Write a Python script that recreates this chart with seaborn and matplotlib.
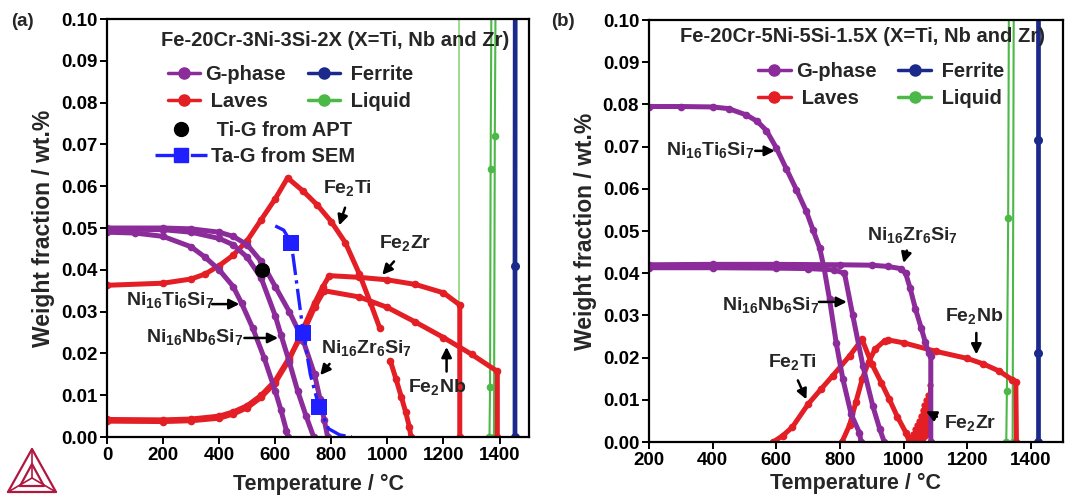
import matplotlib
matplotlib.use("Agg")
import matplotlib.pyplot as plt
from matplotlib.lines import Line2D
import seaborn as sns

# ---------------- (a) Fe-20Cr-3Ni-3Si-2X ----------------
a_ti_g_T = [0, 100, 200, 300, 350, 400, 450, 480, 520, 560, 600, 620, 640, 645]
a_ti_g_w = [0.0490, 0.0488, 0.0480, 0.0455, 0.0430, 0.0400, 0.0360, 0.0320, 0.0260, 0.0190, 0.0110, 0.0065, 0.0015, 0.0]
a_nb_g_T = [0, 200, 300, 400, 450, 500, 550, 600, 620, 650, 680, 710, 737]
a_nb_g_w = [0.0498, 0.0496, 0.0490, 0.0475, 0.0460, 0.0430, 0.0380, 0.0290, 0.0245, 0.0180, 0.0110, 0.0050, 0.0]
a_zr_g_T = [0, 200, 300, 400, 450, 500, 550, 600, 650, 700, 740, 760, 775, 787]
a_zr_g_w = [0.0500, 0.0500, 0.0498, 0.0490, 0.0480, 0.0460, 0.0420, 0.0360, 0.0300, 0.0230, 0.0150, 0.0090, 0.0040, 0.0]

a_fe2ti_T1 = [0, 200, 300, 350, 400, 450, 500, 550, 600, 644, 700, 750, 800, 850, 900, 940, 973]
a_fe2ti_w1 = [0.0363, 0.0368, 0.0378, 0.0390, 0.0410, 0.0435, 0.0470, 0.0520, 0.0570, 0.0620,
              0.0588, 0.0555, 0.0515, 0.0465, 0.0390, 0.0320, 0.0260]
a_fe2ti_T2 = [1010, 1030, 1050, 1065, 1078, 1084]
a_fe2ti_w2 = [0.0183, 0.0140, 0.0095, 0.0060, 0.0025, 0.0]
a_fe2zr_T = [0, 200, 300, 400, 450, 500, 550, 600, 650, 700, 740, 770, 793, 900, 1000, 1100, 1200, 1258, 1258]
a_fe2zr_w = [0.0038, 0.0037, 0.0039, 0.0045, 0.0055, 0.0070, 0.0095, 0.0130, 0.0185, 0.0260, 0.0320,
             0.0360, 0.0386, 0.0382, 0.0376, 0.0365, 0.0345, 0.0316, 0.0]
a_fe2nb_T = [0, 200, 300, 400, 450, 500, 550, 600, 650, 700, 740, 774, 900, 1000, 1100, 1200, 1300, 1392, 1392]
a_fe2nb_w = [0.0042, 0.0041, 0.0043, 0.0050, 0.0060, 0.0075, 0.0100, 0.0135, 0.0190, 0.0250, 0.0310,
             0.0350, 0.0335, 0.0310, 0.0275, 0.0238, 0.0198, 0.0157, 0.0]

a_liq_zr_T = [1255, 1255]
a_liq_zr_w = [0.0, 0.12]
a_liq_nb_T = [1364, 1366, 1368, 1372]
a_liq_nb_w = [0.0, 0.012, 0.064, 0.12]
a_liq_ti_T = [1380, 1383, 1387]
a_liq_ti_w = [0.0, 0.072, 0.12]
a_fer_T = [1455, 1455, 1456]
a_fer_w = [0.0, 0.041, 0.12]

apt_T = [551]
apt_w = [0.040]
sem_line_T = [600, 630, 657, 680, 700, 725, 756, 790, 830, 873]
sem_line_w = [0.0505, 0.0495, 0.0465, 0.0350, 0.0250, 0.0150, 0.0072, 0.0020, 0.0005, 0.0]
sem_pts_T = [657, 700, 756]
sem_pts_w = [0.0465, 0.0250, 0.0072]

# ---------------- (b) Fe-20Cr-5Ni-5Si-1.5X ----------------
b_ti_g_T = [200, 300, 400, 450, 506, 540, 569, 600, 631, 663, 694, 715, 736, 750, 767, 788, 809, 835, 861, 866]
b_ti_g_w = [0.0795, 0.0795, 0.0794, 0.0790, 0.0775, 0.0760, 0.0738, 0.0697, 0.0648, 0.0598, 0.0547, 0.0503,
            0.0460, 0.0412, 0.0338, 0.0235, 0.0149, 0.0066, 0.0022, 0.0]
b_nb_g_T = [200, 400, 600, 700, 780, 814, 840, 872, 903, 925, 939]
b_nb_g_w = [0.0413, 0.0413, 0.0412, 0.0411, 0.0408, 0.0400, 0.0300, 0.0180, 0.0085, 0.0030, 0.0]
b_zr_g_T = [200, 400, 600, 800, 900, 950, 990, 1006, 1020, 1037, 1055, 1068, 1079, 1085, 1085]
b_zr_g_w = [0.0420, 0.0421, 0.0421, 0.0420, 0.0419, 0.0416, 0.0411, 0.0400, 0.0365, 0.0315, 0.0270,
            0.0236, 0.0210, 0.0205, 0.0]

b_fe2ti_T = [590, 620, 650, 700, 740, 777, 830, 869, 900, 930, 955, 980, 1007, 1018]
b_fe2ti_w = [0.0, 0.0015, 0.0035, 0.0090, 0.0125, 0.0157, 0.0204, 0.0243, 0.0185, 0.0140, 0.0101,
             0.0060, 0.0022, 0.0]
b_fe2nb_T = [806, 830, 850, 870, 890, 910, 940, 950, 1000, 1100, 1200, 1250, 1300, 1340, 1352, 1354]
b_fe2nb_w = [0.0, 0.0040, 0.0095, 0.0150, 0.0190, 0.0220, 0.0240, 0.0242, 0.0235, 0.0215, 0.0198,
             0.0185, 0.0168, 0.0148, 0.0143, 0.0]
b_fe2zr_T = [1020, 1023, 1026, 1029, 1032, 1035, 1038, 1041, 1044, 1047, 1050, 1053, 1056, 1059,
             1062, 1065, 1068, 1071, 1074, 1077, 1080, 1083, 1085, 1086]
b_fe2zr_w = [0.0, 0.0012, 0.0, 0.0020, 0.0, 0.0030, 0.0002, 0.0040, 0.0003, 0.0050, 0.0005, 0.0062,
             0.0008, 0.0075, 0.0010, 0.0088, 0.0015, 0.0100, 0.0020, 0.0112, 0.0030, 0.0135, 0.0060, 0.0]

b_liq1_T = [1322, 1324, 1328, 1331]
b_liq1_w = [0.0, 0.012, 0.053, 0.12]
b_liq2_T = [1342, 1346]
b_liq2_w = [0.0, 0.12]
b_fer_T = [1422, 1422, 1422, 1422]
b_fer_w = [0.0, 0.021, 0.0715, 0.12]

PURPLE = "#8c2c9a"
RED = "#e31e24"
NAVY = "#1b2a8a"
GREEN = "#4cb847"
LGREEN = "#8ad57c"
SEMBLUE = "#1f1fff"
LOGO = "#b0183f"

sns.set_theme(style="ticks")
plt.rcParams["font.family"] = ["Liberation Sans", "DejaVu Sans"]
plt.rcParams["font.weight"] = "bold"
plt.rcParams["mathtext.fontset"] = "custom"
plt.rcParams["mathtext.rm"] = "Liberation Sans:bold"
plt.rcParams["mathtext.bf"] = "Liberation Sans:bold"
plt.rcParams["mathtext.default"] = "rm"

LEG_FS = 14.5
ANN_FS = 14


def curve(ax, T, w, color, lw=3.6, ms=5.5, **kw):
    sns.lineplot(x=T, y=w, ax=ax, color=color, lw=lw, marker="o", markersize=ms,
                 markeredgecolor=color, markeredgewidth=0, sort=False, estimator=None,
                 legend=False, **kw)


def arrow(ax, text, xy, xytext, txt_pos, fs=ANN_FS):
    ax.annotate("", xy=xy, xytext=xytext,
                arrowprops=dict(arrowstyle="-|>,head_length=0.5,head_width=0.25",
                                color="black", lw=1.8))
    ax.text(txt_pos[0], txt_pos[1], text, fontsize=fs, fontweight="bold",
            ha="center", va="center")


def style_axes(ax, xlim, xticks, xpad):
    ax.set_xlim(*xlim)
    ax.set_ylim(0, 0.1)
    ax.set_xticks(xticks)
    ax.set_yticks([0.0, 0.01, 0.02, 0.03, 0.04, 0.05, 0.06, 0.07, 0.08, 0.09, 0.10])
    ax.yaxis.set_major_formatter(matplotlib.ticker.FormatStrFormatter("%.2f"))
    ax.tick_params(direction="out", length=5, width=1.4, labelsize=13.5, pad=2, colors="black")
    for lab in ax.get_xticklabels() + ax.get_yticklabels():
        lab.set_fontweight("bold")
    for s in ax.spines.values():
        s.set_linewidth(1.6)
        s.set_color("black")
    ax.set_xlabel("Temperature / \u00b0C", fontsize=15.5, fontweight="bold", labelpad=xpad)
    ax.set_ylabel("Weight fraction / wt.%", fontsize=16.5, fontweight="bold", labelpad=4)


def bold_legend(leg):
    for t in leg.get_texts():
        t.set_fontweight("bold")


fig = plt.figure(figsize=(10.67, 4.99), dpi=100)
ax1 = fig.add_axes([0.1003, 0.1242, 0.3955, 0.8377])
ax2 = fig.add_axes([0.6082, 0.1142, 0.388, 0.8457])

# ----- panel (a) -----
curve(ax1, a_liq_zr_T, a_liq_zr_w, LGREEN, lw=1.2, ms=5)
curve(ax1, a_liq_nb_T, a_liq_nb_w, GREEN, lw=1.5, ms=5.5)
curve(ax1, a_liq_ti_T, a_liq_ti_w, GREEN, lw=1.5, ms=5.5)
curve(ax1, a_fe2zr_T, a_fe2zr_w, RED)
curve(ax1, a_fe2nb_T, a_fe2nb_w, RED)
curve(ax1, a_fe2ti_T1, a_fe2ti_w1, RED)
curve(ax1, a_fe2ti_T2, a_fe2ti_w2, RED)
curve(ax1, a_ti_g_T, a_ti_g_w, PURPLE)
curve(ax1, a_nb_g_T, a_nb_g_w, PURPLE)
curve(ax1, a_zr_g_T, a_zr_g_w, PURPLE)
curve(ax1, a_fer_T, a_fer_w, NAVY, lw=3.4, ms=6.5)
sns.lineplot(x=sem_line_T, y=sem_line_w, ax=ax1, color=SEMBLUE, lw=2.4, linestyle="-.",
             sort=False, estimator=None, legend=False)
sns.scatterplot(x=sem_pts_T, y=sem_pts_w, ax=ax1, color=SEMBLUE, marker="s", s=120,
                edgecolor=SEMBLUE, linewidth=0, legend=False, zorder=5)
sns.scatterplot(x=apt_T, y=apt_w, ax=ax1, color="black", marker="o", s=100,
                edgecolor="black", legend=False, zorder=5)
style_axes(ax1, (0, 1505), [0, 200, 400, 600, 800, 1000, 1200, 1400], 7)

ax1.text(0.54, 0.948, "Fe-20Cr-3Ni-3Si-2X (X=Ti, Nb and Zr)", transform=ax1.transAxes,
         ha="center", va="center", fontsize=14.5, fontweight="bold")
h_a = [Line2D([], [], color=PURPLE, marker="o", lw=2.5, ms=8),
       Line2D([], [], color=RED, marker="o", lw=2.5, ms=8),
       Line2D([], [], color=NAVY, marker="o", lw=2.5, ms=8),
       Line2D([], [], color=GREEN, marker="o", lw=2.5, ms=8)]
labels_a = ["G-phase", " Laves", " Ferrite", " Liquid"]
leg1 = ax1.legend(h_a, labels_a, ncol=2, loc="upper left",
                  bbox_to_anchor=(0.12, 0.914), frameon=False, fontsize=LEG_FS, handlelength=1.6,
                  handletextpad=0.25, columnspacing=1.1, labelspacing=0.4, borderpad=0)
bold_legend(leg1)
ax1.add_artist(leg1)
h_b = [Line2D([], [], color="black", marker="o", lw=0, ms=10),
       Line2D([], [], color=SEMBLUE, marker="s", lw=2.4, ls="-.", ms=10)]
leg2 = ax1.legend(h_b, [" Ti-G from APT", "Ta-G from SEM"], loc="upper left",
                  bbox_to_anchor=(0.09, 0.779), frameon=False, fontsize=LEG_FS, handlelength=2.6,
                  handletextpad=0.2, labelspacing=0.32, borderpad=0)
bold_legend(leg2)

arrow(ax1, "Fe$_2$Ti", (825, 0.0500), (852, 0.0555), (857, 0.0596))
arrow(ax1, "Fe$_2$Zr", (975, 0.0383), (1030, 0.0425), (1064, 0.0464))
arrow(ax1, "Ni$_{16}$Ti$_6$Si$_7$", (482, 0.0318), (365, 0.0318), (226, 0.0328))
arrow(ax1, "Ni$_{16}$Nb$_6$Si$_7$", (620, 0.0237), (480, 0.0237), (312, 0.0239))
arrow(ax1, "Ni$_{16}$Zr$_6$Si$_7$", (754, 0.0143), (800, 0.0180), (925, 0.0213))
arrow(ax1, "Fe$_2$Nb", (1211, 0.0222), (1211, 0.0150), (1179, 0.0120))

# ----- panel (b) -----
curve(ax2, b_liq1_T, b_liq1_w, GREEN, lw=1.5, ms=5.5)
curve(ax2, b_liq2_T, b_liq2_w, GREEN, lw=1.5, ms=5.5)
curve(ax2, b_fe2zr_T, b_fe2zr_w, RED, lw=2.4, ms=4.5)
curve(ax2, b_fe2nb_T, b_fe2nb_w, RED)
curve(ax2, b_fe2ti_T, b_fe2ti_w, RED)
curve(ax2, b_ti_g_T, b_ti_g_w, PURPLE)
curve(ax2, b_nb_g_T, b_nb_g_w, PURPLE)
curve(ax2, b_zr_g_T, b_zr_g_w, PURPLE)
curve(ax2, b_fer_T, b_fer_w, NAVY, lw=3.4, ms=6.5)
style_axes(ax2, (200, 1500), [200, 400, 600, 800, 1000, 1200, 1400], 3)

ax2.text(0.515, 0.96, "Fe-20Cr-5Ni-5Si-1.5X (X=Ti, Nb and Zr)", transform=ax2.transAxes,
         ha="center", va="center", fontsize=14.5, fontweight="bold")
leg3 = ax2.legend(h_a, labels_a, ncol=2, loc="upper left",
                  bbox_to_anchor=(0.24, 0.925), frameon=False, fontsize=LEG_FS, handlelength=1.6,
                  handletextpad=0.25, columnspacing=1.1, labelspacing=0.4, borderpad=0)
bold_legend(leg3)

arrow(ax2, "Ni$_{16}$Ti$_6$Si$_7$", (604, 0.0690), (525, 0.0690), (393, 0.0692))
arrow(ax2, "Ni$_{16}$Zr$_6$Si$_7$", (997, 0.0418), (1012, 0.0460), (1028, 0.0490))
arrow(ax2, "Ni$_{16}$Nb$_6$Si$_7$", (830, 0.0332), (725, 0.0332), (582, 0.0325))
arrow(ax2, "Fe$_2$Nb", (1228, 0.0201), (1228, 0.0265), (1222, 0.0299))
arrow(ax2, "Fe$_2$Ti", (698, 0.0095), (664, 0.0152), (651, 0.0190))
arrow(ax2, "Fe$_2$Zr", (1062, 0.0076), (1112, 0.0057), (1210, 0.0045))

fig.text(22 / 1067, 1 - 22 / 499, "(a)", fontsize=13.5, fontweight="bold", ha="center", va="center")
fig.text(563 / 1067, 1 - 22 / 499, "(b)", fontsize=13.5, fontweight="bold", ha="center", va="center")

# Thermo-Calc style logo
W, H = 1067.0, 499.0
outer = [(8, 492), (56, 492), (32, 449), (8, 492)]
inner = [(20, 486), (44, 486), (32, 464), (20, 486)]
for pts in (outer, inner):
    fig.add_artist(Line2D([p[0] / W for p in pts], [1 - p[1] / H for p in pts],
                          color=LOGO, lw=1.6, transform=fig.transFigure))
cx, cy = 32, 478
for (px, py) in outer[:3]:
    fig.add_artist(Line2D([px / W, cx / W], [1 - py / H, 1 - cy / H],
                          color=LOGO, lw=1.2, transform=fig.transFigure))

fig.savefig("out.png", dpi=100)
